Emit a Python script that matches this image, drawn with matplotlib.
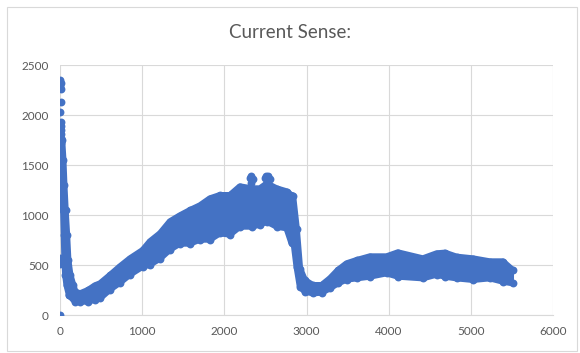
import matplotlib.pyplot as plt
from matplotlib.patches import Rectangle

# --- data (x = sample, y = current) ---
# single points at the very start (outliers + top of the spike)
spike_x = [0, 0, 0, 0, 5, 8, 5, 10, 8, 0, 10, 12, 12, 10, 12, 0, 15]
spike_y = [0, 510, 570, 1160, 2350, 2320, 2290, 2260, 2130, 2030, 1930, 1890, 1850, 1810, 1770, 1680, 1720]

# steep descent, given as x-range per current level
desc_y   = [1750, 1550, 1300, 1050, 800, 550, 400, 300, 200]
desc_xlo = [5, 20, 30, 40, 48, 55, 65, 80, 110]
desc_xhi = [25, 40, 52, 67, 85, 100, 125, 160, 200]

# main band: lower and upper envelope of the point cloud
band_x  = [110, 182, 243, 340, 426, 487, 608, 730, 852, 1006, 1095, 1217, 1338, 1460,
           1582, 1703, 1825, 1946, 2068, 2190, 2332, 2433, 2518, 2636, 2758, 2819,
           2835, 2880, 2920, 2980, 3078, 3184, 3285, 3382, 3488, 3610, 3771, 3974,
           4112, 4416, 4583, 4684, 4826, 5024, 5231, 5389, 5511]
band_lo = [200, 135, 135, 135, 155, 168, 255, 325, 405, 485, 505, 565, 655, 715,
           715, 755, 755, 818, 805, 885, 885, 905, 935, 885, 868, 718,
           785, 485, 285, 235, 218, 225, 268, 318, 355, 368, 385, 418,
           385, 368, 405, 385, 368, 352, 368, 335, 318]
band_hi = [330, 235, 215, 248, 295, 315, 398, 485, 565, 648, 735, 815, 935, 995,
           1048, 1095, 1165, 1198, 1198, 1285, 1265, 1265, 1315, 1265, 1235, 1195,
           1195, 865, 465, 348, 298, 298, 365, 448, 515, 548, 585, 585,
           625, 565, 615, 622, 582, 565, 535, 535, 448]

# the two little peaks near 2300 and 2500
peak_x = [2310, 2330, 2345, 2330, 2490, 2510, 2530, 2550, 2515]
peak_y = [1370, 1395, 1360, 1320, 1370, 1395, 1395, 1360, 1330]

BLUE = "#4472C4"
GRID = "#D9D9D9"
TXT  = "#595959"

plt.rcParams['font.family'] = ['Lato', 'DejaVu Sans']

fig = plt.figure(figsize=(5.8, 3.53), dpi=100)
ax = fig.add_axes([60/580, 38/353, 493/580, 250/353])

ms = 32
# filled body of the point cloud
ax.fill_between(band_x, band_lo, band_hi, facecolor=BLUE, edgecolor=BLUE, lw=1, zorder=2)
ax.fill_betweenx(desc_y, desc_xlo, desc_xhi, facecolor=BLUE, edgecolor=BLUE, lw=1, zorder=2)
# envelope drawn with the marker's width so the edge is rounded like the dots
for xs, ys in [(band_x, band_lo), (band_x, band_hi), (desc_xlo, desc_y), (desc_xhi, desc_y)]:
    ax.plot(xs, ys, color=BLUE, lw=4.6, solid_capstyle="round",
            solid_joinstyle="round", zorder=2)
for xs, ys in [(band_x, band_lo), (band_x, band_hi), (desc_xlo, desc_y),
               (desc_xhi, desc_y), (spike_x, spike_y), (peak_x, peak_y)]:
    ax.scatter(xs, ys, s=ms, color=BLUE, lw=0, zorder=3)

ax.set_xlim(0, 6000)
ax.set_ylim(0, 2500)
ax.set_xticks(range(0, 6001, 1000))
ax.set_yticks(range(0, 2501, 500))
ax.grid(True, color=GRID, lw=0.8)
ax.set_axisbelow(True)
for s in ["top", "right", "left"]:
    ax.spines[s].set_visible(False)
ax.spines["bottom"].set_color(GRID)
ax.tick_params(length=0, labelsize=8.5, labelcolor=TXT, pad=8)

fig.text(0.5, 1 - 33/353, "Current Sense:", ha="center", va="center",
         fontsize=13.5, color=TXT)
fig.patches.append(Rectangle((7/580, 2/353), 570/580, 344/353, transform=fig.transFigure,
                             fill=False, edgecolor=GRID, lw=0.8))

plt.savefig("out.png", dpi=100)
